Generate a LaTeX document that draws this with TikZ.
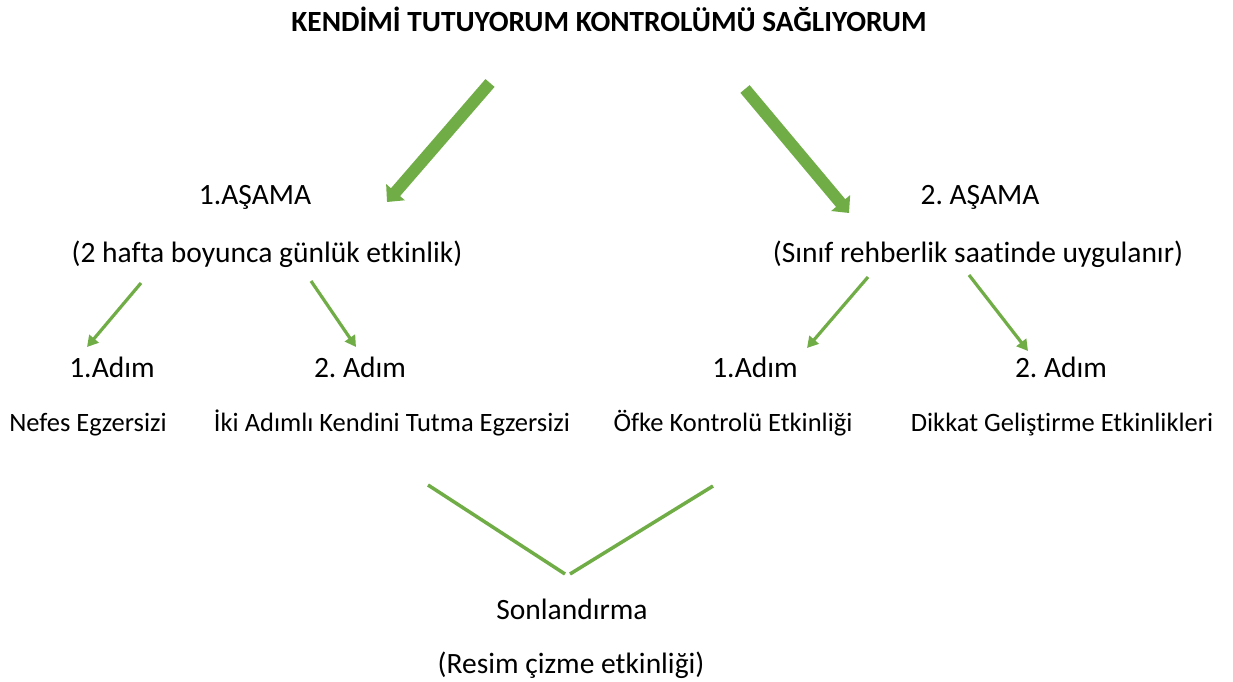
\documentclass[tikz,border=0pt]{standalone}
\usepackage{fontspec}
\setmainfont[Ligatures=NoCommon]{Carlito}
\usetikzlibrary{arrows.meta}
\definecolor{grn}{HTML}{70AD47}
\frenchspacing
\begin{document}
\begin{tikzpicture}[x=1pt,y=-1pt,
  big/.style={draw=grn,line width=12pt,-{Triangle[width=24pt,length=13pt]}},
  small/.style={draw=grn,line width=3.2pt,-{Triangle[width=12pt,length=11pt]}},
  vline/.style={draw=grn,line width=3.5pt},
  lbl/.style={font=\fontsize{29.5}{34}\selectfont,inner sep=0pt,anchor=base},
  sub/.style={font=\fontsize{26.5}{31}\selectfont,inner sep=0pt,anchor=base},
  ttl/.style={font=\bfseries\fontsize{29.3}{34}\selectfont,inner sep=0pt,anchor=base}]
\useasboundingbox (0,0) rectangle (1233,682);
\node[ttl] (title) at (609,32) {KENDİMİ TUTUYORUM KONTROLÜMÜ SAĞLIYORUM};
\node[lbl] (a1) at (255,204) {1.AŞAMA};
\node[lbl] (a1d) at (267,262) {(2 hafta boyunca günlük etkinlik)};
\node[lbl] (a2) at (980,204) {2. AŞAMA};
\node[lbl] (a2d) at (978,262) {(Sınıf rehberlik saatinde uygulanır)};
\node[lbl] (s11) at (112,377) {1.Adım};
\node[lbl] (s12) at (360,377) {2. Adım};
\node[lbl] (s21) at (755,377) {1.Adım};
\node[lbl] (s22) at (1061,377) {2. Adım};
\node[sub] (e11) at (88,431) {Nefes Egzersizi};
\node[sub] (e12) at (392,431) {İki Adımlı Kendini Tutma Egzersizi};
\node[sub] (e21) at (733,431) {Öfke Kontrolü Etkinliği};
\node[sub] (e22) at (1062,431) {Dikkat Geliştirme Etkinlikleri};
\node[lbl] (son) at (572,619) {Sonlandırma};
\node[lbl] (sond) at (571,673) {(Resim çizme etkinliği)};
% connector ends
\coordinate (b1s) at (490,83);
\coordinate (b1e) at (387,202);
\coordinate (b2s) at (745,89);
\coordinate (b2e) at (849,213);
\coordinate (l1s) at (141,283);
\coordinate (l1e) at (87,347);
\coordinate (l2s) at (311,281);
\coordinate (l2e) at (356,347);
\coordinate (r1s) at (868,277);
\coordinate (r1e) at (807,348);
\coordinate (r2s) at (969,275);
\coordinate (r2e) at (1028,351);
\coordinate (v1) at (428,485);
\coordinate (v2) at (565,574);
\coordinate (v3) at (570,574);
\coordinate (v4) at (713,486);
\draw[big] (b1s) -- (b1e);
\draw[big] (b2s) -- (b2e);
\draw[small] (l1s) -- (l1e);
\draw[small] (l2s) -- (l2e);
\draw[small] (r1s) -- (r1e);
\draw[small] (r2s) -- (r2e);
\draw[vline] (v1) -- (v2);
\draw[vline] (v3) -- (v4);
\end{tikzpicture}
\end{document}
